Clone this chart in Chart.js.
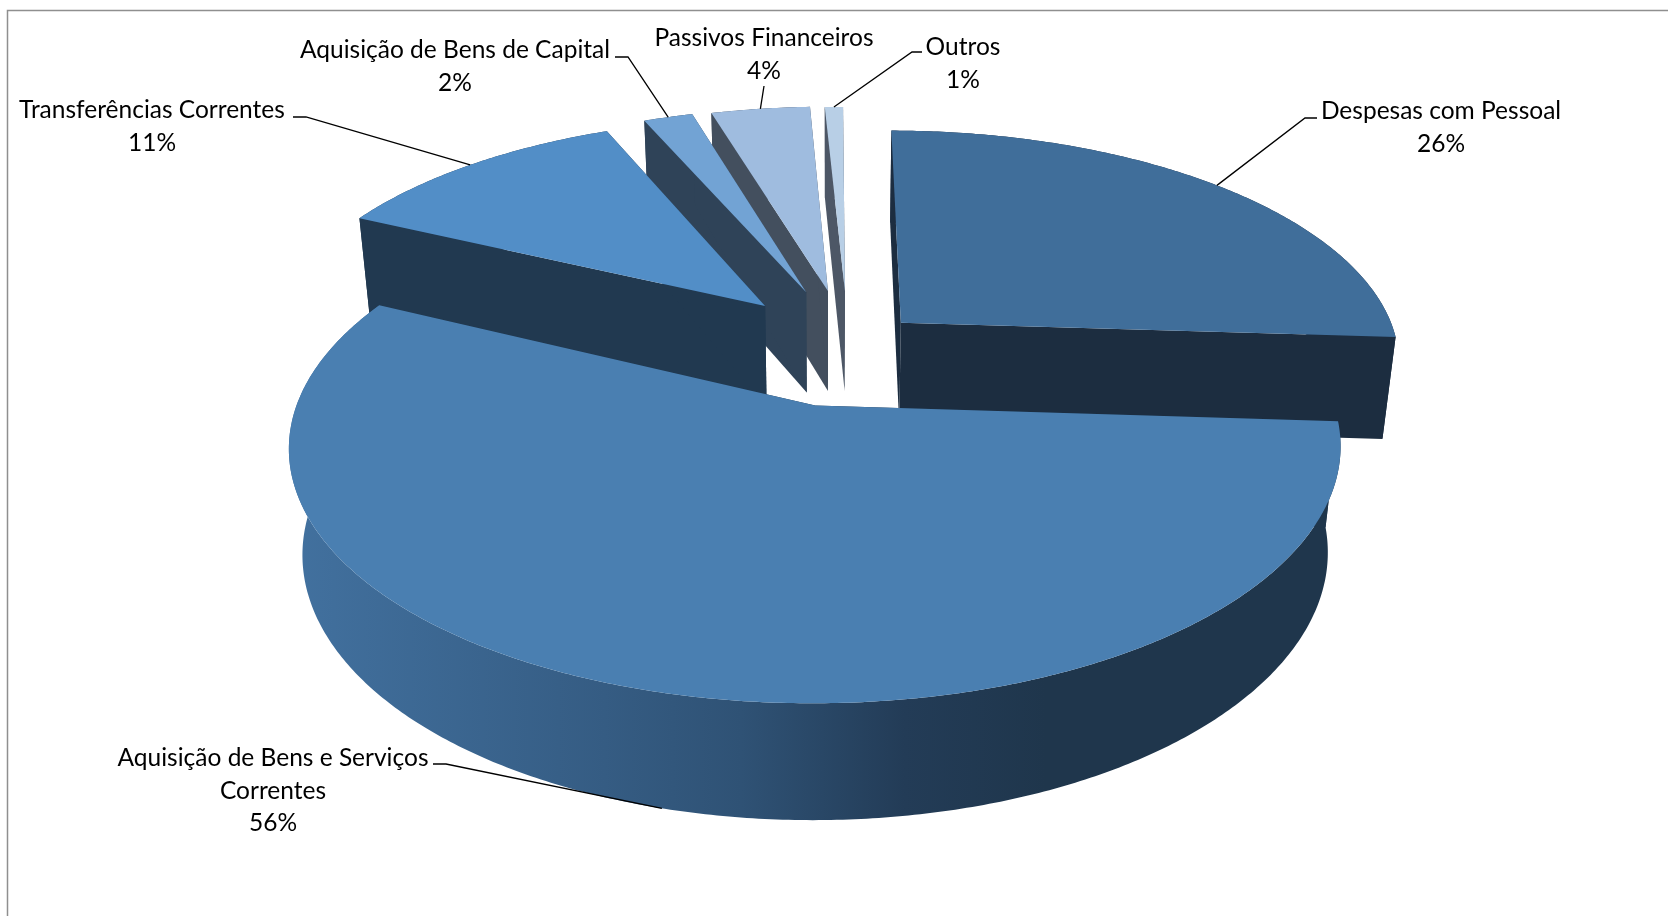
<!DOCTYPE html>
<html>
<head>
<meta charset="utf-8">
<title>Despesas</title>
<script src="https://cdn.jsdelivr.net/npm/chart.js@4"></script>
<style>
  html, body { margin: 0; padding: 0; background: #fff; overflow: hidden; }
  canvas { display: block; }
</style>
</head>
<body>
<canvas id="grafico" width="1668" height="916"></canvas>
<script>
var categorias = [
  'Despesas com Pessoal',
  ['Aquisição de Bens e Serviços', 'Correntes'],
  'Transferências Correntes',
  'Aquisição de Bens de Capital',
  'Passivos Financeiros',
  'Outros'
];
var valores = [26, 56.1, 11.49, 1.9, 3.81, 0.7];

var coresTopo = ['#406e9a', '#4a7fb1', '#528ec7', '#72a3d4', '#9fbcdf', '#b8cfe6'];
var coresLado = ['#1c2d40', '#1f364c', '#213950', '#2f4358', '#434f5e', '#4d5766'];
var afastamento = [60, 105, 100, 104, 102, 100];

// degradê da parede externa da fatia maior
var degradeLado = [[0, '#42719f'], [0.3, '#355c83'], [0.43, '#2f5275'], [0.585, '#233c57'], [0.72, '#1f364c'], [1, '#1f364c']];

// camera da perspectiva (disco de raio 1)
var cam = { vx: 830.6, vy: 406.5, f: 519, g: 249, d: 108, p: 0.165, e: 0.025, a: 0.0354, b: 0.2546 };

// posicao dos rotulos: centro do texto, linha de base e cotovelo da linha guia
var rotulos = [
  { x: 1441, y: 119, guia: [[1317, 118], [1305, 118]], baixo: false },
  { x: 273, y: 766, guia: [[433, 764], [446, 764]], baixo: true },
  { x: 152, y: 118, guia: [[293, 117], [306, 117]], baixo: false },
  { x: 455, y: 58, guia: [[615, 57], [628, 57]], baixo: false },
  { x: 764, y: 46, guia: [[764, 86]], baixo: false },
  { x: 963, y: 55, guia: [[922, 52], [912, 52]], baixo: false }
];

function projeta(u, v, baixo) {
  var w = 1 + cam.p * (v + cam.b) + (baixo ? cam.e : 0);
  return {
    x: cam.vx + cam.f * (u + cam.a) / w,
    y: cam.vy + (-cam.g * (v + cam.b) + (baixo ? cam.d : 0)) / w
  };
}

// ponto da fatia no disco, a partir do elemento arc do Chart.js
function pontoFatia(arc, ang, raio, baixo) {
  var meio = (arc.startAngle + arc.endAngle) / 2;
  var desl = arc.options.offset / arc.outerRadius;
  var u = desl * Math.cos(meio) + raio * Math.cos(ang);
  var v = -(desl * Math.sin(meio) + raio * Math.sin(ang));
  return projeta(u, v, baixo);
}

function borda(arc, baixo) {
  var pts = [];
  var passos = Math.max(2, Math.ceil((arc.endAngle - arc.startAngle) / 0.01));
  for (var k = 0; k <= passos; k++) {
    var ang = arc.startAngle + (arc.endAngle - arc.startAngle) * k / passos;
    pts.push(pontoFatia(arc, ang, 1, baixo));
  }
  return pts;
}

function preenche(ctx, pts, cor) {
  ctx.beginPath();
  pts.forEach(function (p, i) {
    if (i == 0) ctx.moveTo(p.x, p.y); else ctx.lineTo(p.x, p.y);
  });
  ctx.closePath();
  ctx.fillStyle = cor;
  ctx.fill();
}

var pizza3d = {
  id: 'pizza3d',
  beforeDraw: function (chart) {
    var ctx = chart.ctx;
    ctx.save();
    ctx.strokeStyle = '#8f8f8f';
    ctx.lineWidth = 1.5;
    ctx.beginPath();
    ctx.moveTo(7.5, 916);
    ctx.lineTo(7.5, 10.5);
    ctx.lineTo(1668, 10.5);
    ctx.stroke();
    ctx.restore();
  },
  beforeDatasetsDraw: function (chart) {
    var ctx = chart.ctx;
    var arcos = chart.getDatasetMeta(0).data;
    var ordem = arcos.map(function (a, i) { return i; });
    // desenha de tras para frente
    ordem.sort(function (i, j) {
      var mi = (arcos[i].startAngle + arcos[i].endAngle) / 2;
      var mj = (arcos[j].startAngle + arcos[j].endAngle) / 2;
      return Math.sin(mi) - Math.sin(mj);
    });
    ordem.forEach(function (i) {
      var arc = arcos[i];
      var topo = borda(arc, false);
      var fundo = borda(arc, true);
      var pontaTopo = pontoFatia(arc, 0, 0, false);
      var pontaFundo = pontoFatia(arc, 0, 0, true);

      var corLado = coresLado[i];
      if (i == 1) {
        var xs = topo.map(function (p) { return p.x; });
        corLado = ctx.createLinearGradient(Math.min.apply(null, xs), 0, Math.max.apply(null, xs), 0);
        degradeLado.forEach(function (s) { corLado.addColorStop(s[0], s[1]); });
      }
      preenche(ctx, topo.concat(fundo.slice().reverse()), corLado);
      preenche(ctx, [pontaTopo, topo[0], fundo[0], pontaFundo], coresLado[i]);
      preenche(ctx, [pontaTopo, topo[topo.length - 1], fundo[fundo.length - 1], pontaFundo], coresLado[i]);
      preenche(ctx, [pontaTopo].concat(topo), coresTopo[i]);
    });
    return false;
  },
  afterDraw: function (chart) {
    var ctx = chart.ctx;
    var arcos = chart.getDatasetMeta(0).data;
    ctx.save();
    ctx.font = '24.5px Lato';
    ctx.textAlign = 'center';
    ctx.textBaseline = 'alphabetic';
    arcos.forEach(function (arc, i) {
      var r = rotulos[i];
      var meio = (arc.startAngle + arc.endAngle) / 2;
      var fim = pontoFatia(arc, meio, 1, r.baixo);
      ctx.strokeStyle = '#000';
      ctx.lineWidth = 1.3;
      ctx.beginPath();
      r.guia.forEach(function (p, k) {
        if (k == 0) ctx.moveTo(p[0], p[1]); else ctx.lineTo(p[0], p[1]);
      });
      ctx.lineTo(fim.x, fim.y);
      ctx.stroke();

      var nome = [].concat(categorias[i]);
      var total = valores.reduce(function (s, v) { return s + v; }, 0);
      var linhas = nome.concat(Math.round(valores[i] / total * 100) + '%');
      ctx.fillStyle = '#000';
      linhas.forEach(function (t, k) {
        ctx.fillText(t, r.x, r.y + k * 32.5);
      });
    });
    ctx.restore();
  }
};

new Chart(document.getElementById('grafico'), {
  type: 'pie',
  data: {
    labels: categorias,
    datasets: [{
      data: valores,
      backgroundColor: coresTopo,
      borderWidth: 0,
      offset: afastamento
    }]
  },
  options: {
    responsive: false,
    animation: false,
    plugins: { legend: { display: false }, tooltip: { enabled: false } }
  },
  plugins: [pizza3d]
});
</script>
</body>
</html>
